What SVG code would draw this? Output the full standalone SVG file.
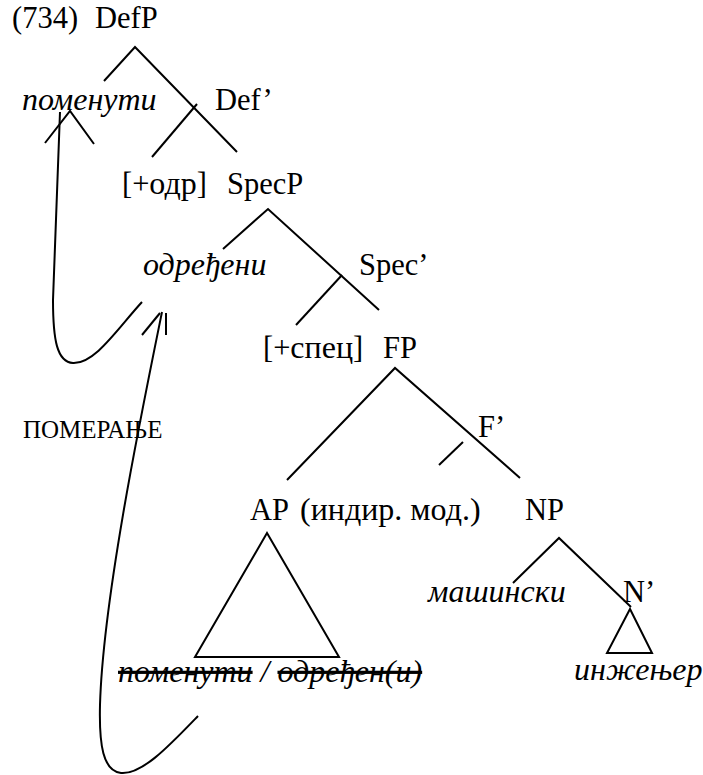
<svg xmlns="http://www.w3.org/2000/svg" width="703" height="775" viewBox="0 0 703 775">
<style>
text{font-family:"Liberation Serif","Times New Roman",serif;font-size:30.5px;fill:#000}
.i{font-style:italic;font-size:32px}
.c{font-size:32px}
.s{font-size:25px}
.ln{stroke:#000;stroke-width:2;fill:none;stroke-linecap:butt}
.st{text-decoration:line-through}
</style>
<rect width="703" height="775" fill="#fff"/>
<g id="connectors" class="ln">
<path d="M104,81 L135,47 L237,152"/>
<path d="M197,104 L152,157"/>
<path d="M223,249 L268,209 L379,310"/>
<path d="M342,275 L296,325"/>
<path d="M287,480 L395,368 L520,478"/>
<path d="M463,442 L439,465"/>
<path d="M513,583 L559,538 L631,607"/>
<path d="M267,533 L195,657 L339,657 Z"/>
<path d="M630,609 L607,653 L652,653 Z"/>
<path d="M142,302 C118,328 95,364 73,363 C57,362 53,340 53,300 L60,112"/>
<path d="M45,143 L70,111 L94,144"/>
<path d="M198,716 C170,745 142,775 121,773 C103,771 99,745 100,705 C103,600 140,420 162,312"/>
<path d="M142,335 L160,313"/>
<path d="M166,313 L166,335"/>
</g>
<g id="n0"><text x="12" y="28">(734)</text><text x="95" y="28">DefP</text></g>
<g id="n1"><text class="i" x="22" y="110">поменути</text></g>
<g id="n2"><text x="215" y="110">Def’</text></g>
<g id="n3"><text x="122" y="194">[+<tspan class="c">одр</tspan>]</text></g>
<g id="n4"><text x="227" y="194">SpecP</text></g>
<g id="n5"><text class="i" x="143" y="275">одређени</text></g>
<g id="n6"><text x="359" y="275">Spec’</text></g>
<g id="n7"><text x="263" y="358">[+<tspan class="c">спец</tspan>]</text></g>
<g id="n8"><text x="383" y="358">FP</text></g>
<g id="n9"><text class="s" x="23" y="438">ПОМЕРАЊЕ</text></g>
<g id="n10"><text x="478" y="437">F’</text></g>
<g id="n11"><text x="250" y="520">AP <tspan class="c" x="300">(индир. мод.)</tspan></text></g>
<g id="n12"><text x="525" y="520">NP</text></g>
<g id="n13"><text class="i" x="428" y="602">машински</text></g>
<g id="n14"><text x="623" y="602">N’</text></g>
<g id="n15"><text class="i" x="118" y="682"><tspan class="st">поменути</tspan> / <tspan class="st">одређен(и)</tspan></text></g>
<g id="n16"><text class="i" x="574" y="680">инжењер</text></g>
</svg>
